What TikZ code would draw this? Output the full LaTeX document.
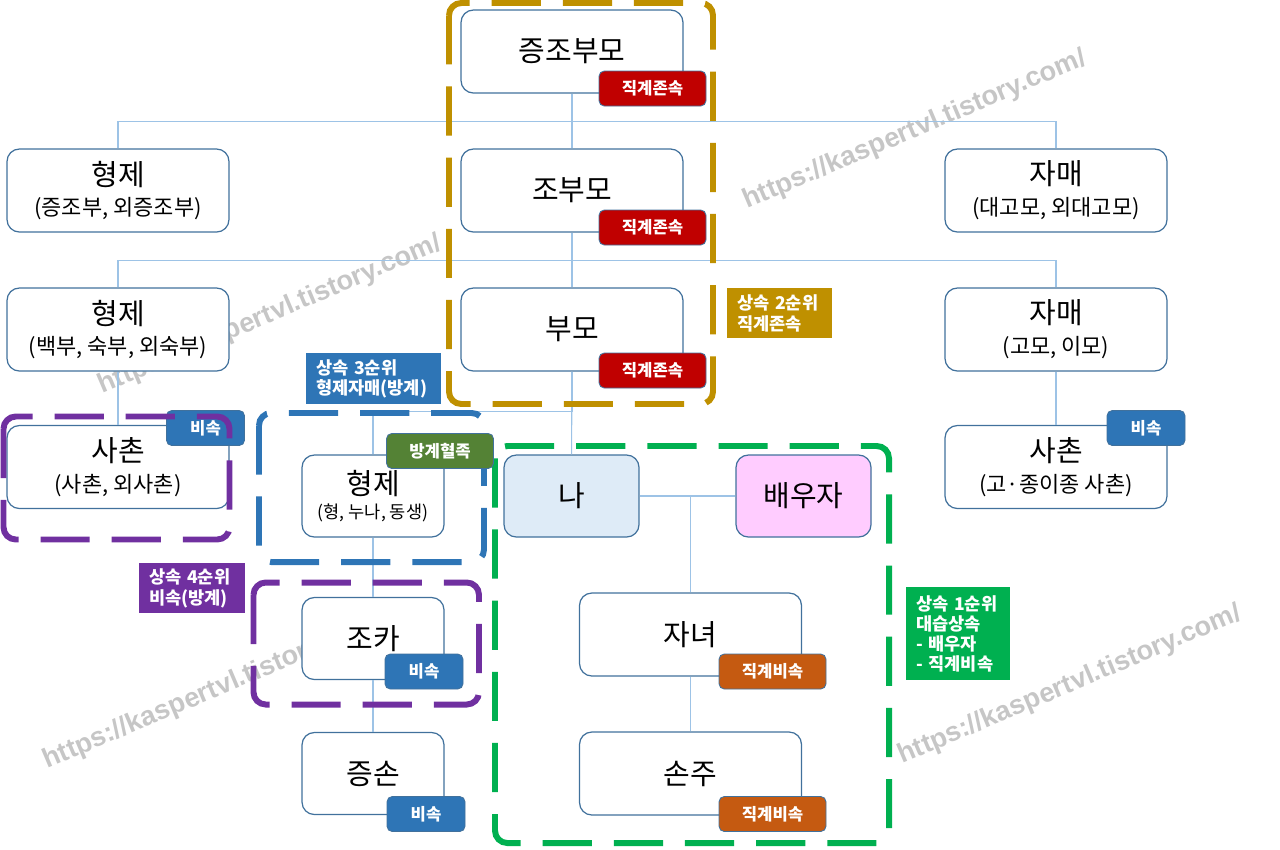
\documentclass[tikz,border=0pt]{standalone}
\usepackage{fontspec}
\setmainfont{Noto Sans CJK KR}
\newfontfamily\wmfont{Liberation Sans}
\usetikzlibrary{calc}
\definecolor{boxline}{HTML}{41719C}
\definecolor{linkblue}{HTML}{9DC3E6}
\definecolor{meblue}{HTML}{DEEBF7}
\definecolor{sppink}{HTML}{FFCCFF}
\definecolor{bred}{HTML}{C00000}
\definecolor{borange}{HTML}{C55A11}
\definecolor{bblue}{HTML}{2E75B6}
\definecolor{bgreen}{HTML}{548235}
\definecolor{rgold}{HTML}{BF9000}
\definecolor{rpurple}{HTML}{7030A0}
\definecolor{rgreen}{HTML}{00B050}
\newcommand{\subtxt}[1]{{\fontsize{12.5}{14}\selectfont #1}}

\begin{document}
\begin{tikzpicture}[x=0.02cm,y=-0.02cm]
		\tikzset{
			person/.style={draw=boxline, line width=0.7pt, fill=white, rounded corners=7pt,
				minimum width=4.44cm, minimum height=1.66cm, inner sep=0pt, align=center,
				font=\fontsize{16.5}{17.5}\selectfont},
			small/.style={person, minimum width=2.84cm, minimum height=1.64cm},
			badge/.style={draw=boxline, line width=0.5pt, rounded corners=3pt, text=white,
				minimum width=2.14cm, minimum height=0.7cm, inner sep=0pt,
				font=\bfseries\fontsize{9.5}{11}\selectfont},
			badgesm/.style={badge, fill=bblue, minimum width=1.56cm},
			rank/.style={anchor=north west, text=white, inner xsep=5.5pt, inner ysep=0pt,
				align=left, font=\bfseries\fontsize{10}{11.5}\selectfont},
			frame/.style={line width=3.4pt, rounded corners=7pt, dash pattern=on 28pt off 12.5pt},
			link/.style={draw=linkblue, line width=0.6pt},
			wmark/.style={text=gray!45, rotate=23, font=\wmfont\bfseries\fontsize{15.5}{17}\selectfont}
		}
		\useasboundingbox (0,0) rectangle (1280,849);
		
		% watermarks
		\node[wmark] (wm1) at (915,130) {https://kaspertvl.tistory.com/};
		\node[wmark] (wm2) at (270,315) {https://kaspertvl.tistory.com/};
		\node[wmark] (wm3) at (215,690) {https://kaspertvl.tistory.com/};
		\node[wmark] (wm4) at (1070,685) {https://kaspertvl.tistory.com/};
		
		% family boxes
		\node[person] (gz) at (572,51.5) {증조부모};
		\node[person] (hj1) at (118,190.5) {형제\\\subtxt{(증조부, 외증조부)}};
		\node[person] (jbm) at (572,190.5) {조부모};
		\node[person] (jm1) at (1056,190.5) {자매\\\subtxt{(대고모, 외대고모)}};
		\node[person] (hj2) at (118,329.5) {형제\\\subtxt{(백부, 숙부, 외숙부)}};
		\node[person] (bm) at (572,329.5) {부모};
		\node[person] (jm2) at (1056,329.5) {자매\\\subtxt{(고모, 이모)}};
		\node[person] (sc1) at (118,467) {사촌\\\subtxt{(사촌, 외사촌)}};
		\node[person] (sc2) at (1056,467) {사촌\\\subtxt{(고·종이종 사촌)}};
		\node[small] (hj3) at (373,496) {형제\\[-4pt]{\fontsize{10}{11}\selectfont (형, 누나, 동생)}};
		\node[small, fill=meblue, minimum width=2.7cm] (me) at (571.5,496) {나};
		\node[small, fill=sppink, minimum width=2.7cm] (sp) at (803.5,496) {배우자};
		\node[person] (ch) at (690.5,634.5) {자녀};
		\node[person] (gc) at (690.5,773.5) {손주};
		\node[small] (jk) at (373,638.5) {조카};
		\node[small] (js) at (373,773.5) {증손};
		
		% connectors
		\draw[link] (gz) -- (jbm);
		\draw[link] (hj1.north) -- ++(0,-27) -| (jm1.north);
		\draw[link] (jbm) -- (bm);
		\draw[link] (hj2.north) -- ++(0,-27) -| (jm2.north);
		\draw[link] (hj2) -- (sc1);
		\draw[link] (jm2) -- (sc2);
		\draw[link] (bm) -- (me);
		\draw[link] (hj3.north) -- ++(0,-43) -| (bm.south);
		\draw[link] (me) -- (sp);
		\draw[link] (ch.north) |- (me.east);
		\draw[link] (ch) -- (gc);
		\draw[link] (hj3) -- (jk);
		\draw[link] (jk) -- (js);
		
		% inheritance frames
		\draw[frame, rgold] (449,3) rectangle (713,404);
		\draw[frame, bblue] (259,413) rectangle (484,562);
		\draw[frame, rpurple] (253.5,582.5) rectangle (479,704.5);
		\draw[frame, rgreen] (495,446) rectangle (889,843);
		
		% badges
		\node[badge, fill=bred] (b1) at (652.5,88.5) {직계존속};
		\node[badge, fill=bred] (b2) at (652.5,227.5) {직계존속};
		\node[badge, fill=bred] (b3) at (652.5,370.5) {직계존속};
		\node[badgesm] (b4) at (205.5,428) {비속};
		\node[badgesm] (b5) at (1146,428) {비속};
		\node[badge, fill=bgreen] (b6) at (440,451) {방계혈족};
		\node[badgesm] (b7) at (424,671.5) {비속};
		\node[badgesm] (b8) at (426,814) {비속};
		\node[badge, fill=borange] (b9) at (772.5,671.5) {직계비속};
		\node[badge, fill=borange] (b10) at (772.5,814) {직계비속};
		
		\draw[frame, rpurple] (3.5,416.5) rectangle (229.5,539.5);
		
		% ranks
		\node[rank, fill=rgold, text width=1.71cm, minimum height=1cm] (r2) at (727,288) {상속 2순위\\직계존속};
		\node[rank, fill=bblue, text width=2.31cm, minimum height=1.02cm] (r3) at (306,353) {상속 3순위\\형제자매(방계)};
		\node[rank, fill=rpurple, text width=1.73cm, minimum height=1cm] (r4) at (139,563) {상속 4순위\\비속(방계)};
		\node[rank, fill=rgreen, text width=1.69cm, minimum height=1.86cm] (r1) at (906,587) {상속 1순위\\대습상속\\- 배우자\\- 직계비속};
		
	\end{tikzpicture}
\end{document}
